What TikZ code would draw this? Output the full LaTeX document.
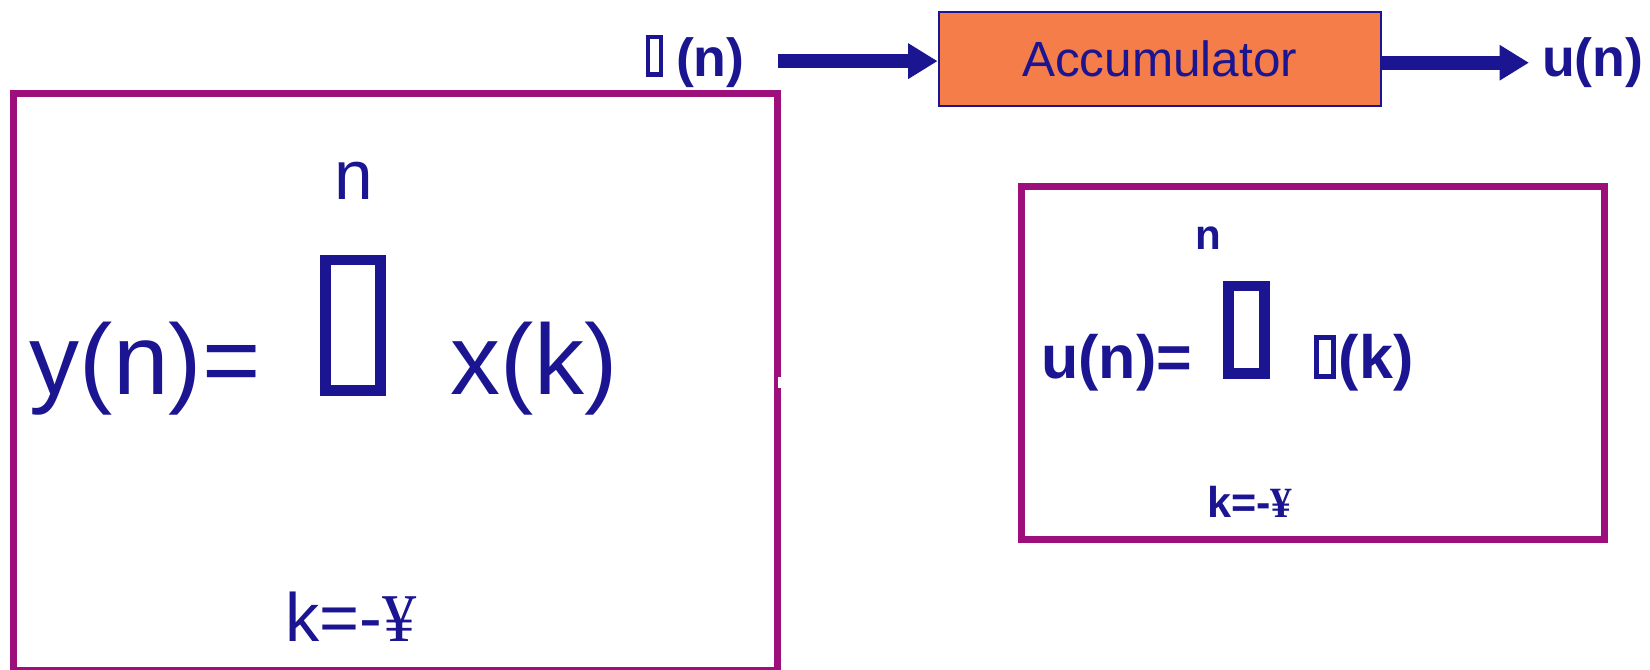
\documentclass[tikz,border=0pt]{standalone}
\usepackage{fontspec}
\setmainfont{Liberation Sans}
\newfontfamily\yenfont{Liberation Serif}
\usetikzlibrary{positioning,arrows.meta}

\definecolor{ink}{HTML}{1B1591}
\definecolor{plum}{HTML}{9D0F7A}
\definecolor{accfill}{HTML}{F47D4A}

% empty glyph box: outer width, outer height, rule
\newcommand\tofu[3]{\raisebox{#3}{\setlength\fboxsep{0pt}\setlength\fboxrule{#3}%
  \fbox{\rule{0pt}{\dimexpr#2-#3-#3\relax}\kern\dimexpr#1-#3-#3\relax}}}

\begin{document}
\begin{tikzpicture}[
        x=0.5pt, y=-0.5pt,
        >={Triangle[length=14pt, width=16pt]},
        txt/.style={text=ink, inner sep=0pt, anchor=base west},
        eqframe/.style={rectangle, draw=plum, line width=3.4pt, inner sep=0pt},
        accbox/.style={rectangle, draw=ink, line width=1pt, fill=accfill, text=ink, inner sep=0pt,
            minimum width=210pt, minimum height=45pt, font=\fontsize{23.5}{28}\selectfont},
        lbl/.style={txt, font=\fontsize{25.5}{30}\selectfont\bfseries},
        bigeq/.style={txt, font=\fontsize{47.5}{56}\selectfont},
        smalleq/.style={txt, font=\fontsize{29}{34}\selectfont\bfseries},
        arrow/.style={->, draw=ink, line width=6.5pt}
    ]
    \useasboundingbox (0,0) rectangle (1568,636);

    % frames
    \node[eqframe, minimum width=363pt, minimum height=274pt] (leftbox) at (376,363) {};
    \node[eqframe, minimum width=277pt, minimum height=168pt] (rightbox) at (1248,345) {};
    \fill[white] (739.5,358) rectangle (746,369);

    % accumulator block
    \node[accbox] (accum) at (1102,56) {Accumulator};
    \node[lbl, left=91.5pt of accum.base west, anchor=base east] (dn) {\tofu{8.5pt}{20pt}{2pt}\kern6pt(n)};
    \node[lbl, right=76pt of accum.base east, anchor=base west] (un) {u(n)};

    \draw[arrow, shorten <=15.5pt] (dn.east) -- (dn.east -| accum.west);
    \draw[arrow, shorten >=6pt] (accum.east |- un.west) -- (un.west);

    % y(n) sum
    \node[bigeq] (ylhs) at (28,375) {y(n)=};
    \node[txt] (sigmaL) at (304,376) {\tofu{31pt}{67pt}{5pt}};
    \node[bigeq] (xk) at (428,375) {x(k)};
    \node[txt, anchor=base, font=\fontsize{33}{40}\selectfont] (topL) at (336,190) {n};
    \node[txt, font=\fontsize{32.5}{38}\selectfont] (botL) at (271,610) {k=-{\yenfont ¥}};

    % u(n) sum
    \node[smalleq] (ulhs) at (989,360) {u(n)=};
    \node[txt] (sigmaR) at (1162,360) {\tofu{22pt}{46.5pt}{5pt}};
    \node[smalleq] (dk) at (1248,360) {\tofu{10.5pt}{21pt}{2.5pt}\kern1.5pt(k)};
    \node[txt, anchor=base, font=\fontsize{20}{24}\selectfont\bfseries] (topR) at (1148,237) {n};
    \node[txt, font=\fontsize{20.5}{24}\selectfont\bfseries] (botR) at (1147,492) {k=-{\yenfont ¥}};
\end{tikzpicture}
\end{document}
